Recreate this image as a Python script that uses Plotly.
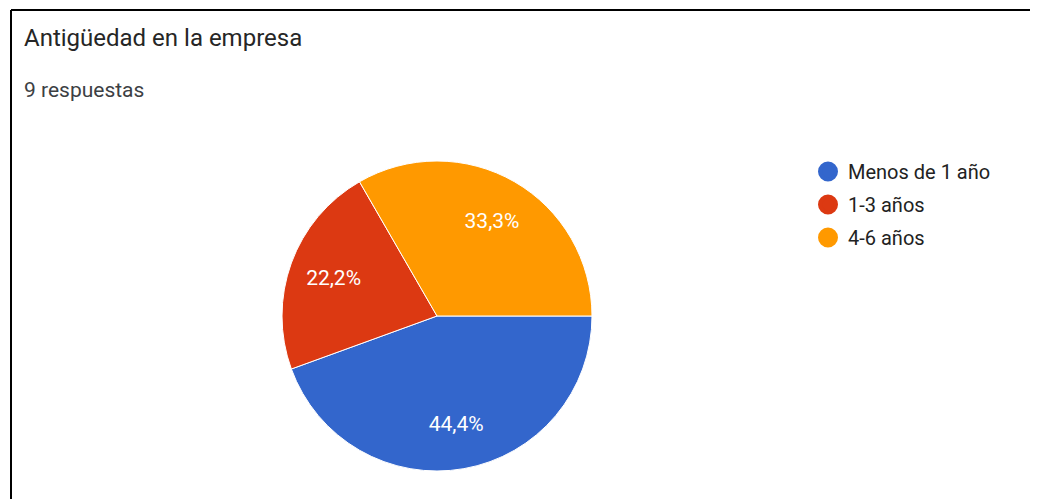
import plotly.graph_objects as go

# page body has an 8px margin, so the figure is 8px smaller on each side
OFF = 8
W, H = 1038 - OFF, 499 - OFF

labels = ["Menos de 1 año", "1-3 años", "4-6 años"]
counts = [4, 2, 3]
colors = ["#3366CC", "#DC3912", "#FF9900"]

title_text = "Antigüedad en la empresa"
subtitle_text = "9 respuestas"

FONT = "Roboto, Arial, sans-serif"


def px_x(x):
    return (x - OFF) / W


def px_y(y):
    return 1 - (y - OFF) / H


pie_domain = dict(x=[px_x(282), px_x(592)], y=[px_y(471), px_y(161)])

fig = go.Figure()

fig.add_pie(
    labels=labels,
    values=counts,
    sort=False,
    direction="clockwise",
    rotation=90,
    marker=dict(colors=colors, line=dict(color="white", width=1)),
    textinfo="none",
    domain=pie_domain,
    showlegend=False,
    hoverinfo="label+percent",
)

# transparent ring on top just to push the percentages outwards like Google Charts
fig.add_pie(
    labels=labels,
    values=counts,
    sort=False,
    direction="clockwise",
    rotation=90,
    hole=0.42,
    marker=dict(colors=["rgba(0,0,0,0)"] * 3, line=dict(width=0)),
    texttemplate="%{percent:.1%}",
    textposition="inside",
    insidetextfont=dict(family=FONT, size=21, color="white"),
    domain=pie_domain,
    showlegend=False,
    hoverinfo="skip",
)

# legend entries with round markers
for i, (lab, col) in enumerate(zip(labels, colors)):
    fig.add_scatter(
        x=[None], y=[None],
        mode="markers",
        name=lab,
        legendgroup=f"g{i}",
        marker=dict(color=col, size=16, symbol="circle", line=dict(color=col, width=4)),
    )

fig.add_annotation(
    text=title_text, x=px_x(22), y=px_y(22), xref="paper", yref="paper",
    xanchor="left", yanchor="top", showarrow=False,
    font=dict(family=FONT, size=24, color="#262626"),
)
fig.add_annotation(
    text=subtitle_text, x=px_x(22), y=px_y(76), xref="paper", yref="paper",
    xanchor="left", yanchor="top", showarrow=False,
    font=dict(family=FONT, size=21, color="#3c4043"),
)

# card edges (top and left)
fig.add_shape(type="line", xref="paper", yref="paper",
              x0=px_x(11), x1=1, y0=px_y(10), y1=px_y(10),
              line=dict(color="black", width=2))
fig.add_shape(type="line", xref="paper", yref="paper",
              x0=px_x(11), x1=px_x(11), y0=px_y(10), y1=0,
              line=dict(color="black", width=2))

fig.update_layout(
    width=W, height=H,
    margin=dict(l=0, r=0, t=0, b=0),
    paper_bgcolor="white",
    plot_bgcolor="white",
    separators=",.",
    font=dict(family=FONT, color="#222222"),
    xaxis=dict(visible=False),
    yaxis=dict(visible=False),
    legend=dict(
        x=px_x(808), y=px_y(152), xanchor="left", yanchor="top",
        font=dict(family=FONT, size=20, color="#222222"),
        tracegroupgap=4,
        bgcolor="rgba(0,0,0,0)",
    ),
)

fig.write_html("out.html")
